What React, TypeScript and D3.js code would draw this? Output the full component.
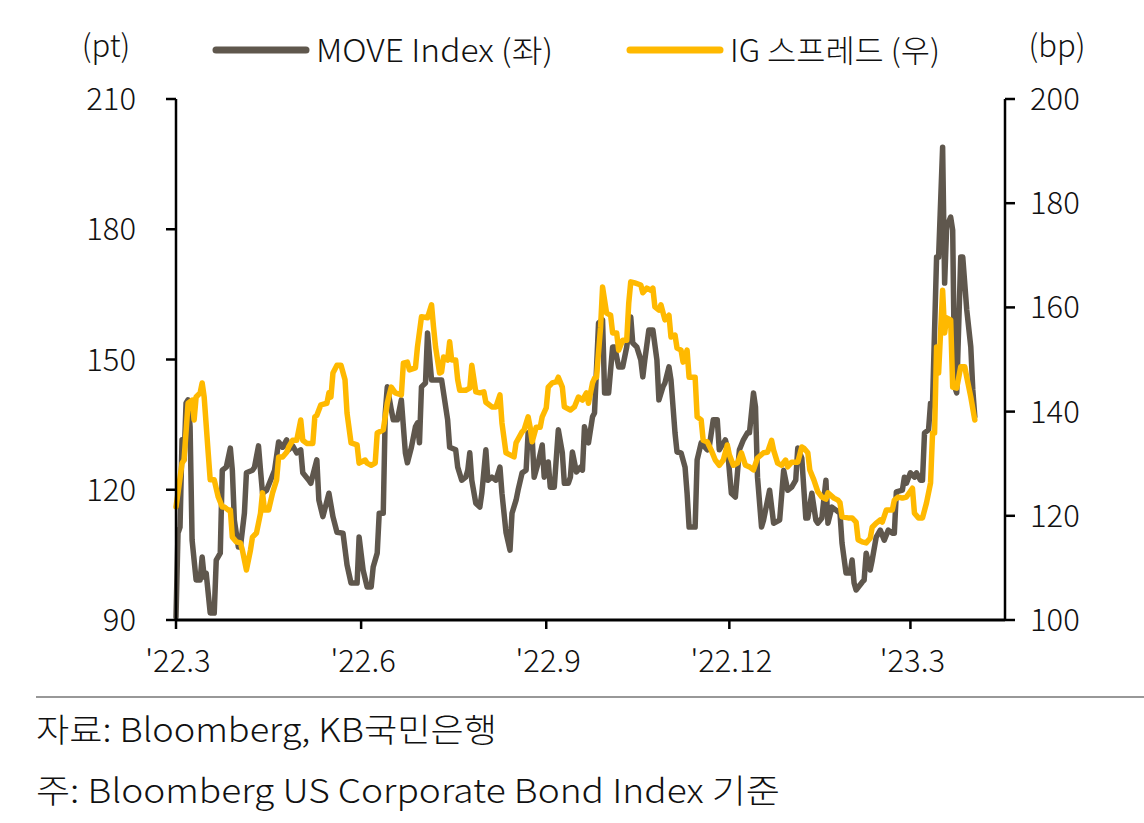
import React, { useEffect, useRef } from "react";
import * as d3 from "d3";

// ---------- data ----------
const START_DATE = "2022-03-01"; // day offsets below are counted from this date
const END_DATE = "2023-04-17"; // right edge of the x domain

const moveDays = [
  0, 1, 2, 3, 4, 5, 6, 7, 8, 10, 12, 13, 14, 15, 17, 19, 20, 22, 23, 25, 27, 28, 29, 31, 32, 34, 35, 38, 39, 41,
  42, 43, 45, 47, 49, 51, 53, 55, 56, 58, 60, 62, 63, 66, 67, 70, 71, 73, 76, 78, 80, 83, 85, 87, 90, 91, 93, 95, 97, 98,
  100, 101, 103, 104, 105, 107, 108, 110, 112, 114, 115, 117, 119, 120, 121, 122, 124, 125, 127, 130, 132, 135, 136, 139, 140, 142, 144, 145, 146, 147,
  149, 151, 152, 154, 155, 157, 159, 161, 162, 164, 166, 167, 169, 170, 172, 174, 175, 177, 178, 180, 182, 183, 185, 186, 188, 190, 192, 193, 195, 196,
  197, 199, 201, 202, 203, 205, 207, 208, 210, 212, 213, 215, 217, 218, 220, 222, 224, 226, 227, 229, 231, 232, 233, 235, 237, 239, 240, 242, 243, 245,
  246, 248, 249, 251, 253, 254, 255, 258, 259, 261, 264, 265, 267, 269, 270, 273, 274, 276, 278, 280, 282, 284, 285, 287, 288, 289, 291, 292, 295, 297,
  300, 302, 304, 306, 308, 309, 311, 313, 314, 316, 318, 319, 321, 323, 324, 326, 328, 330, 331, 333, 335, 336, 337, 338, 341, 342, 343, 345, 346, 348,
  350, 352, 354, 356, 357, 358, 361, 362, 363, 365, 367, 368, 370, 371, 372, 374, 375, 376, 378, 379, 381, 382, 383, 385, 386, 387, 388, 390, 391, 393,
  395, 396, 397,
];
const moveValues = [
  90.7, 110.0, 111.4, 131.5, 126.9, 140.0, 140.7, 134.5, 108.4, 99.2, 99.2, 104.5, 99.9, 100.8, 91.6, 91.6, 103.8, 105.4, 124.5, 125.2, 129.6, 124.5, 113.0, 106.8, 106.8, 114.6, 123.9, 124.5, 125.2, 130.1,
  124.5, 119.2, 119.9, 122.2, 124.5, 131.0, 129.8, 131.5, 129.2, 130.1, 128.5, 129.2, 123.9, 122.2, 121.5, 126.9, 117.6, 113.8, 119.2, 113.8, 110.2, 110.0, 102.7, 98.5, 98.5, 109.1, 101.5, 97.6, 97.6, 102.2,
  105.4, 114.6, 114.6, 137.7, 143.7, 138.4, 136.1, 136.1, 140.7, 128.5, 126.2, 129.8, 134.5, 135.4, 130.8, 143.7, 144.6, 156.1, 145.3, 145.3, 145.3, 136.1, 129.8, 129.2, 125.2, 122.2, 122.9, 124.5, 128.5, 122.2,
  116.9, 116.0, 119.2, 129.2, 122.2, 122.9, 122.2, 125.2, 119.2, 110.2, 106.1, 114.6, 117.6, 119.9, 123.9, 124.5, 133.1, 132.1, 122.9, 126.2, 130.3, 122.9, 126.4, 120.6, 120.6, 133.8, 128.5, 121.5, 121.5, 122.9,
  128.7, 124.1, 125.2, 124.5, 134.5, 130.8, 136.8, 137.7, 158.4, 159.1, 142.3, 142.3, 152.9, 152.9, 148.3, 148.3, 152.9, 159.8, 153.8, 152.9, 149.9, 146.0, 149.9, 156.8, 156.8, 149.9, 140.7, 143.7, 144.6, 148.3,
  145.3, 133.1, 128.7, 128.5, 125.2, 119.2, 111.4, 111.4, 126.9, 130.8, 129.2, 129.8, 136.1, 136.1, 129.2, 131.5, 129.8, 119.2, 118.3, 129.2, 131.5, 133.1, 133.1, 142.3, 139.1, 122.9, 111.4, 113.0, 119.9, 112.3,
  113.0, 124.5, 119.9, 120.6, 122.2, 129.6, 127.3, 113.5, 113.5, 119.2, 113.0, 112.3, 113.5, 122.2, 112.3, 116.0, 115.3, 114.6, 107.7, 100.8, 100.8, 103.8, 98.5, 96.9, 98.7, 99.2, 105.4, 101.5, 103.8, 109.1,
  110.7, 108.4, 110.7, 110.0, 110.0, 119.5, 119.9, 122.9, 121.5, 123.9, 122.9, 123.9, 122.2, 122.2, 133.1, 133.8, 140.0, 140.0, 173.6, 173.6, 198.9, 167.6, 180.5, 182.8, 179.8, 143.7, 142.3, 173.6, 173.6, 161.4,
  152.9, 143.0, 136.8,
];

const igDays = [
  0, 1, 3, 4, 6, 8, 9, 10, 12, 13, 14, 16, 17, 19, 21, 23, 24, 26, 27, 28, 30, 32, 33, 35, 37, 38, 40, 42, 43, 44,
  46, 48, 50, 51, 53, 55, 56, 58, 60, 62, 63, 65, 68, 69, 70, 72, 75, 76, 77, 78, 80, 82, 84, 85, 87, 90, 91, 94, 95, 97,
  99, 100, 103, 105, 106, 107, 109, 112, 113, 115, 116, 119, 120, 122, 125, 127, 128, 129, 131, 132, 133, 135, 136, 137, 139, 140, 141, 144, 146, 147,
  149, 151, 153, 154, 157, 159, 161, 162, 164, 166, 168, 169, 172, 173, 175, 176, 177, 179, 181, 182, 184, 185, 187, 189, 190, 192, 193, 196, 198, 200,
  202, 204, 205, 207, 208, 209, 211, 212, 214, 216, 217, 219, 220, 222, 224, 225, 226, 228, 231, 232, 234, 236, 237, 238, 240, 241, 243, 245, 246, 248,
  249, 251, 252, 254, 255, 258, 259, 261, 262, 264, 266, 268, 270, 272, 274, 275, 277, 279, 281, 283, 285, 287, 289, 292, 294, 296, 297, 299, 301, 303,
  304, 306, 309, 311, 312, 314, 315, 317, 319, 321, 323, 324, 327, 329, 330, 331, 334, 336, 338, 339, 341, 343, 345, 346, 348, 350, 351, 353, 356, 357,
  359, 361, 363, 366, 367, 369, 371, 373, 375, 376, 377, 378, 379, 381, 382, 383, 385, 386, 388, 390, 392, 393, 395, 397,
];
const igValues = [
  121.7, 124.4, 130.1, 130.7, 141.6, 142.2, 138.4, 142.8, 143.6, 145.5, 142.8, 132.1, 126.9, 126.9, 123.6, 121.7, 121.7, 121.1, 121.1, 115.9, 115.0, 114.8, 113.4, 109.6, 113.4, 115.9, 116.7, 120.5, 124.4, 121.1,
  121.1, 124.4, 126.9, 131.3, 131.3, 132.2, 133.2, 134.5, 134.5, 138.4, 134.5, 133.9, 133.9, 139.0, 139.3, 141.3, 141.6, 143.6, 142.8, 147.4, 148.9, 148.9, 146.1, 139.7, 134.0, 133.6, 130.1, 130.7, 130.1, 129.7,
  130.1, 135.9, 136.5, 141.6, 143.2, 144.7, 143.6, 143.2, 149.3, 149.5, 148.0, 148.4, 152.4, 158.2, 158.0, 160.5, 156.2, 152.4, 147.4, 147.6, 150.5, 149.9, 153.4, 149.9, 149.9, 146.1, 144.1, 144.1, 144.5, 148.9,
  143.8, 143.6, 143.8, 141.8, 140.9, 140.9, 143.2, 137.8, 132.1, 131.7, 131.3, 134.0, 136.1, 136.5, 139.0, 137.0, 134.2, 137.0, 137.0, 139.0, 140.7, 144.7, 145.5, 145.7, 146.6, 144.7, 140.9, 140.3, 140.9, 142.8,
  142.2, 143.6, 141.6, 145.5, 146.4, 146.6, 156.2, 163.9, 158.9, 158.5, 155.1, 155.1, 151.8, 153.7, 153.7, 160.8, 164.9, 164.7, 164.3, 162.8, 163.7, 163.3, 163.7, 160.1, 159.5, 160.5, 157.6, 158.5, 154.3, 154.7,
  152.2, 151.8, 149.5, 151.8, 146.6, 146.6, 139.0, 138.4, 134.5, 134.2, 132.6, 130.7, 129.7, 130.7, 133.6, 131.7, 129.7, 130.1, 132.1, 129.7, 129.4, 128.8, 131.1, 132.1, 132.2, 134.5, 132.6, 130.1, 129.7, 130.7,
  129.4, 130.3, 130.3, 133.2, 133.0, 132.1, 128.8, 126.9, 124.6, 123.6, 123.2, 124.4, 123.4, 123.0, 122.5, 119.8, 119.6, 119.6, 118.8, 115.4, 115.0, 114.8, 115.7, 117.8, 118.6, 119.2, 118.8, 121.1, 121.1, 123.0,
  123.6, 123.4, 123.6, 125.3, 120.5, 119.6, 119.6, 122.5, 126.3, 135.9, 135.9, 152.4, 147.4, 163.3, 155.1, 158.0, 157.6, 144.7, 144.5, 148.6, 148.6, 146.6, 142.8, 138.4,
];

const seriesNames = ["MOVE Index (좌)", "IG 스프레드 (우)"];
const seriesColors = ["#5f574d", "#ffb900"];
const leftTicks = [90, 120, 150, 180, 210];
const rightTicks = [100, 120, 140, 160, 180, 200];
const xTickDates = ["2022-03-01", "2022-06-01", "2022-09-01", "2022-12-01", "2023-03-01"];
const xTickLabels = ["'22.3", "'22.6", "'22.9", "'22.12", "'23.3"];
const leftUnit = "(pt)";
const rightUnit = "(bp)";
const sourceNote = "자료: Bloomberg, KB국민은행";
const footNote = "주: Bloomberg US Corporate Bond Index 기준";

// ---------- chart ----------
const W = 1144;
const H = 823;
const FONT = "'Noto Sans CJK KR', 'Noto Sans', sans-serif";

export default function App() {
  const ref = useRef<SVGSVGElement | null>(null);

  useEffect(() => {
    const svg = d3.select(ref.current);
    svg.selectAll("*").remove();

    const parse = d3.utcParse("%Y-%m-%d");
    const start = parse(START_DATE) as Date;
    const end = parse(END_DATE) as Date;

    const plot = { left: 176, right: 1005, top: 99, bottom: 620 };
    const x = d3.scaleUtc().domain([start, end]).range([plot.left, plot.right]);
    const yL = d3.scaleLinear().domain([90, 210]).range([plot.bottom, plot.top]);
    const yR = d3.scaleLinear().domain([100, 200]).range([plot.bottom, plot.top]);

    const moveData = moveDays.map((d, i) => ({ date: d3.utcDay.offset(start, d), v: moveValues[i] }));
    const igData = igDays.map((d, i) => ({ date: d3.utcDay.offset(start, d), v: igValues[i] }));

    const g = svg.append("g").style("font-family", FONT).style("font-weight", 300);

    // lines
    const lineL = d3
      .line<{ date: Date; v: number }>()
      .x((d) => x(d.date))
      .y((d) => yL(d.v));
    const lineR = d3
      .line<{ date: Date; v: number }>()
      .x((d) => x(d.date))
      .y((d) => yR(d.v));

    g.append("path")
      .datum(moveData)
      .attr("d", lineL)
      .attr("fill", "none")
      .attr("stroke", seriesColors[0])
      .attr("stroke-width", 5.5)
      .attr("stroke-linejoin", "round")
      .attr("stroke-linecap", "round");

    g.append("path")
      .datum(igData)
      .attr("d", lineR)
      .attr("fill", "none")
      .attr("stroke", seriesColors[1])
      .attr("stroke-width", 5.5)
      .attr("stroke-linejoin", "round")
      .attr("stroke-linecap", "round");

    // axes
    const axisColor = "#000";
    // left
    g.append("line")
      .attr("x1", plot.left).attr("x2", plot.left)
      .attr("y1", yL(210)).attr("y2", yL(90))
      .attr("stroke", axisColor).attr("stroke-width", 2.5);
    leftTicks.forEach((t) => {
      g.append("line")
        .attr("x1", plot.left - 10).attr("x2", plot.left)
        .attr("y1", yL(t)).attr("y2", yL(t))
        .attr("stroke", axisColor).attr("stroke-width", 2.5);
      g.append("text")
        .attr("x", 136).attr("y", yL(t) + 11)
        .attr("text-anchor", "end")
        .attr("font-size", 31)
        .attr("fill", "#111")
        .text(String(t));
    });
    // right
    g.append("line")
      .attr("x1", plot.right).attr("x2", plot.right)
      .attr("y1", yR(200)).attr("y2", yR(100))
      .attr("stroke", axisColor).attr("stroke-width", 2.5);
    rightTicks.forEach((t) => {
      g.append("line")
        .attr("x1", plot.right).attr("x2", plot.right + 10)
        .attr("y1", yR(t)).attr("y2", yR(t))
        .attr("stroke", axisColor).attr("stroke-width", 2.5);
      g.append("text")
        .attr("x", 1030).attr("y", yR(t) + 11)
        .attr("text-anchor", "start")
        .attr("font-size", 31)
        .attr("fill", "#111")
        .text(String(t));
    });
    // bottom
    g.append("line")
      .attr("x1", plot.left).attr("x2", plot.right)
      .attr("y1", plot.bottom).attr("y2", plot.bottom)
      .attr("stroke", axisColor).attr("stroke-width", 3);
    xTickDates.forEach((s, i) => {
      const xx = x(parse(s) as Date);
      g.append("line")
        .attr("x1", xx).attr("x2", xx)
        .attr("y1", plot.bottom).attr("y2", plot.bottom + 9)
        .attr("stroke", axisColor).attr("stroke-width", 2.5);
      g.append("text")
        .attr("x", xx + 2).attr("y", 672)
        .attr("text-anchor", "middle")
        .attr("font-size", 31)
        .attr("fill", "#111")
        .text(xTickLabels[i]);
    });

    // units
    g.append("text").attr("x", 106).attr("y", 57).attr("text-anchor", "middle")
      .attr("font-size", 31).attr("fill", "#111").text(leftUnit);
    g.append("text").attr("x", 1057).attr("y", 57).attr("text-anchor", "middle")
      .attr("font-size", 31).attr("fill", "#111").text(rightUnit);

    // legend
    const legendItems = [
      { x1: 216, x2: 306, tx: 316, tl: 237 },
      { x1: 630, x2: 720, tx: 730, tl: 210 },
    ];
    legendItems.forEach((it, i) => {
      g.append("line")
        .attr("x1", it.x1).attr("x2", it.x2)
        .attr("y1", 50).attr("y2", 50)
        .attr("stroke", seriesColors[i]).attr("stroke-width", 7)
        .attr("stroke-linecap", "round");
      g.append("text")
        .attr("x", it.tx).attr("y", 62)
        .attr("font-size", 31)
        .attr("fill", "#111")
        .attr("textLength", it.tl)
        .attr("lengthAdjust", "spacingAndGlyphs")
        .text(seriesNames[i]);
    });

    // separator & notes
    g.append("line")
      .attr("x1", 36).attr("x2", W)
      .attr("y1", 697).attr("y2", 697)
      .attr("stroke", "#333").attr("stroke-width", 1.2);
    g.append("text").attr("x", 36).attr("y", 742)
      .attr("font-size", 33).attr("fill", "#111")
      .attr("textLength", 461).attr("lengthAdjust", "spacingAndGlyphs")
      .text(sourceNote);
    g.append("text").attr("x", 36).attr("y", 803)
      .attr("font-size", 33).attr("fill", "#111")
      .attr("textLength", 744).attr("lengthAdjust", "spacingAndGlyphs")
      .text(footNote);
  }, []);

  return (
    <div style={{ position: "absolute", left: 0, top: 0, width: W, height: H, background: "#fff" }}>
      <svg ref={ref} width={W} height={H} viewBox={`0 0 ${W} ${H}`} />
    </div>
  );
}
